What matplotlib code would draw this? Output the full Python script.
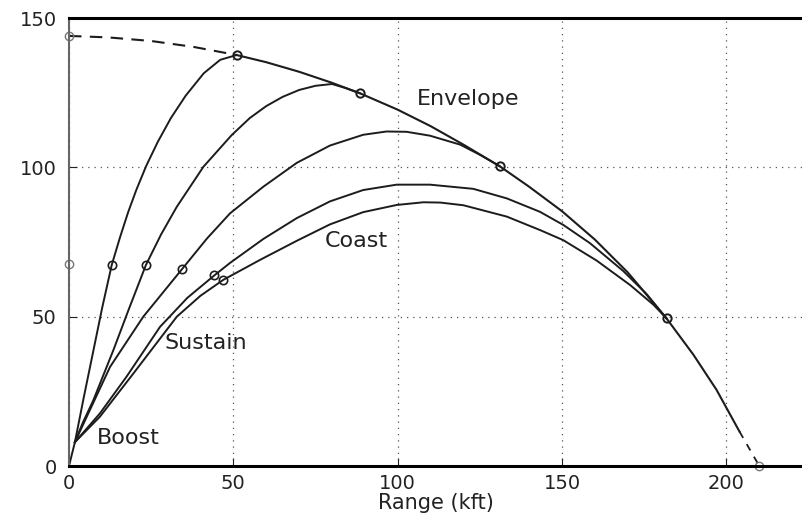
import matplotlib
matplotlib.use("Agg")
import matplotlib.pyplot as plt

# boost phase (shared by all shots)
boost_x = [0, 1.8]
boost_y = [0, 8]

# five trajectories: sustain + coast
traj1_x = [1.8, 4.5, 7.3, 10.1, 13.0, 15.5, 18.0, 20.5, 23.5, 27.0, 31.0, 35.5, 41.0, 46.0, 51.0]
traj1_y = [8, 23, 38, 53, 67.3, 76.5, 85.0, 92.5, 100.5, 108.5, 116.5, 124.0, 131.5, 136.0, 137.6]

traj2_x = [1.8, 4.2, 7.4, 13.5, 18.2, 23.4, 28.0, 32.8, 40.9, 49.5, 55.0, 60.0, 65.0, 70.0, 75.0, 80.0, 84.0, 88.5]
traj2_y = [8, 14.5, 22, 38.8, 52.5, 67.3, 77.5, 86.8, 100.2, 110.8, 116.5, 120.5, 123.6, 125.9, 127.3, 127.9, 126.6, 124.8]

traj3_x = [1.8, 5.4, 12.5, 22.6, 34.3, 42.0, 49.0, 59.1, 69.3, 79.4, 89.5, 96.6, 102.7, 109.8, 119.0, 125.0, 131.0]
traj3_y = [8, 16.5, 33.2, 50.0, 65.8, 76.2, 84.6, 93.5, 101.5, 107.3, 110.9, 112.0, 111.9, 110.6, 107.6, 104.2, 100.4]

traj4_x = [1.8, 9.4, 17.5, 27.7, 36.0, 44.2, 49.0, 59.1, 69.3, 79.4, 89.5, 99.7, 109.8, 123.0, 133.2, 143.3, 150.4, 158.5, 168.6, 175.7, 181.8]
traj4_y = [8, 17.6, 29.9, 46.6, 56.3, 63.8, 68.0, 76.0, 83.0, 88.6, 92.4, 94.2, 94.2, 92.8, 89.6, 85.1, 80.7, 74.6, 65.3, 57.6, 49.4]

traj5_x = [1.8, 9.4, 19.6, 32.8, 40.0, 46.9, 58.1, 69.3, 79.4, 89.5, 99.7, 107.8, 113.0, 120.0, 133.2, 143.3, 150.4, 160.5, 170.7, 177.8, 181.8]
traj5_y = [8, 16.5, 31.0, 50.0, 57.0, 62.3, 69.0, 75.4, 80.9, 85.0, 87.4, 88.3, 88.2, 87.3, 83.5, 79.0, 75.6, 68.8, 60.6, 54.0, 49.4]

trajectories = [(traj1_x, traj1_y), (traj2_x, traj2_y), (traj3_x, traj3_y),
                (traj4_x, traj4_y), (traj5_x, traj5_y)]

# envelope of reachable points
env_dash_top_x = [0, 12, 25, 38, 51]
env_dash_top_y = [144, 143.5, 142.3, 140.3, 137.6]
env_x = [51, 60, 70, 80, 88.5, 100, 110, 120, 131, 140, 150, 160, 170, 181.8, 190, 197, 204]
env_y = [137.6, 135.2, 132.0, 128.3, 124.8, 119.3, 113.8, 107.6, 100.4, 93.5, 85.3, 75.8, 64.8, 49.4, 37.2, 25.5, 11.5]
env_dash_bot_x = [204, 210]
env_dash_bot_y = [11.5, 0]

# burnout markers and intercept markers
sustain_end_x = [0, 13.0, 23.4, 34.3, 44.2, 46.9]
sustain_end_y = [67.6, 67.3, 67.3, 65.8, 63.8, 62.3]
intercept_x = [51, 88.5, 131, 181.8]
intercept_y = [137.6, 124.8, 100.4, 49.4]
edge_x = [0, 0, 210]
edge_y = [144, 67.6, 0]

labels = ["Envelope", "Sustain", "Coast", "Boost"]
label_x = [105.9, 29.2, 77.9, 8.5]
label_y = [122.9, 41.2, 75.3, 9.4]

ink = "#1c1c1c"

fig = plt.figure(figsize=(8.02, 5.15), dpi=100)
ax = fig.add_axes([69 / 802, 49 / 515, 733 / 802, 448 / 515])

ax.plot(boost_x, boost_y, color=ink, lw=1.4)
for tx, ty in trajectories:
    ax.plot(tx, ty, color=ink, lw=1.4)

ax.plot(env_dash_top_x, env_dash_top_y, color=ink, lw=1.5, ls=(0, (6, 4)))
ax.plot(env_x, env_y, color=ink, lw=1.5)
ax.plot(env_dash_bot_x, env_dash_bot_y, color=ink, lw=1.3, ls=(0, (4, 4)))

ax.plot(sustain_end_x[1:], sustain_end_y[1:], "o", ms=6, mfc="none", mec=ink, mew=1.2)
ax.plot(intercept_x, intercept_y, "o", ms=6, mfc="none", mec=ink, mew=1.4)
ax.plot(edge_x, edge_y, "o", ms=6, mfc="none", mec="#777777", mew=1.0, clip_on=False)

for s, x, y in zip(labels, label_x, label_y):
    ax.text(x, y, s, fontsize=16, color="#222222", ha="left", va="center")

ax.set_xlim(0, 223)
ax.set_ylim(0, 150)
ax.set_xticks([0, 50, 100, 150, 200])
ax.set_yticks([0, 50, 100, 150])
ax.tick_params(direction="in", length=6, labelsize=14, colors="#222222")
ax.tick_params(axis="y", pad=9)
ax.tick_params(axis="x", pad=6)
ax.grid(True, color="#555555", lw=0.9, ls=(0, (1, 4)))
ax.set_xlabel("Range (kft)", fontsize=15, color="#222222", labelpad=0)

ax.spines["right"].set_visible(False)
ax.spines["top"].set_linewidth(2.2)
ax.spines["bottom"].set_linewidth(2.2)
ax.spines["left"].set_linewidth(1.5)
ax.spines["left"].set_color("#666666")

fig.savefig("out.png", dpi=100)
